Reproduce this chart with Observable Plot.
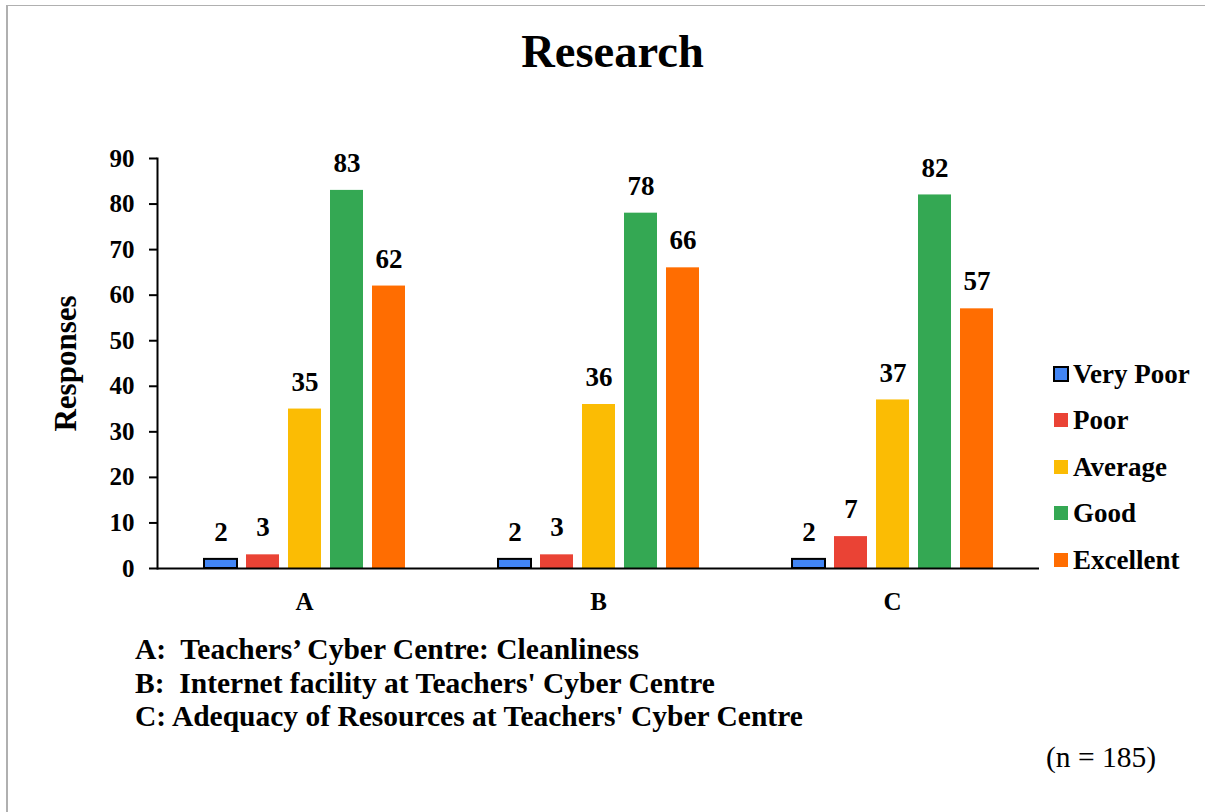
<!DOCTYPE html>
<html>
<head>
<meta charset="utf-8">
<script src="https://cdn.jsdelivr.net/npm/d3@7"></script>
<script src="https://cdn.jsdelivr.net/npm/@observablehq/plot@0.6"></script>
<style>
  html, body { margin: 0; padding: 0; background: #fff; overflow: hidden; }
  #page { position: relative; width: 1205px; height: 812px; overflow: hidden;
          font-family: 'Liberation Serif', 'Times New Roman', serif; color: #000; }
  #frame { position: absolute; left: 6px; top: 5px; width: 1400px; height: 1000px;
           border-left: 2px solid #b0b0b0; border-top: 1px solid #b0b0b0; }
  #chart { position: absolute; left: 0; top: 0; }
  .txt { position: absolute; line-height: 1; white-space: pre; }
  #legend { position: absolute; left: 1053px; top: 350.6px; }
  .row { display: flex; align-items: center; height: 46.5px; line-height: 46.5px;
         font-size: 27px; font-weight: bold; }
  .sw { width: 16px; height: 16px; display: flex; align-items: center; justify-content: center; margin-right: 4px; }
</style>
</head>
<body>
<div id="page">
  <div id="frame"></div>
  <div id="chart"></div>
</div>
<script>
// ---- data ----
const categories = ["A", "B", "C"];
const series = ["Very Poor", "Poor", "Average", "Good", "Excellent"];
const veryPoor  = [2, 2, 2];
const poor      = [3, 3, 7];
const average   = [35, 36, 37];
const good      = [83, 78, 82];
const excellent = [62, 66, 57];
const colors = ["#4285F4", "#EA4335", "#FBBC04", "#34A853", "#FF6D01"];
const yTicks = [0, 10, 20, 30, 40, 50, 60, 70, 80, 90];
const title = "Research";
const yLabel = "Responses";
const captionLines = [
  "A:  Teachers\u2019 Cyber Centre: Cleanliness",
  "B:  Internet facility at Teachers' Cyber Centre",
  "C: Adequacy of Resources at Teachers' Cyber Centre"
];
const note = "(n = 185)";

// ---- table ----
const seriesValues = [veryPoor, poor, average, good, excellent];
const rows = [];
categories.forEach((c, i) => {
  series.forEach((s, j) => rows.push({cat: c, series: s, value: seriesValues[j][i]}));
});

const font = "'Liberation Serif', 'Times New Roman', serif";

const chart = Plot.plot({
  width: 1205,
  height: 812,
  marginLeft: 156,
  marginRight: 165,
  marginTop: 158,
  marginBottom: 244,
  style: {fontFamily: font, color: "#000", background: "transparent"},
  fx: {domain: categories, padding: 0},
  x: {domain: series, paddingInner: 0.224, paddingOuter: 1.08, axis: null},
  y: {domain: [0, 90]},
  color: {domain: series, range: colors},
  marks: [
    Plot.barY(rows, {fx: "cat", x: "series", y: "value", fill: "series"}),
    Plot.barY(rows, {filter: d => d.series === "Very Poor", fx: "cat", x: "series", y: "value",
                     fill: "series", stroke: "#000", strokeWidth: 2}),
    Plot.text(rows, {fx: "cat", x: "series", y: "value", text: d => String(d.value),
                     dy: -27, fontSize: 27, fontWeight: "bold", fill: "#000"}),
    Plot.ruleY([0], {stroke: "#000", strokeWidth: 2}),
    Plot.frame({anchor: "left", facetAnchor: "left", stroke: "#000", strokeWidth: 2}),
    Plot.axisY({ticks: yTicks, tickSize: 8, tickPadding: 15, tickFormat: d => String(d),
                fontSize: 25, fontWeight: "bold", stroke: "#000", strokeWidth: 2, label: null}),
    Plot.axisY({ticks: [], tickSize: 0, label: yLabel, labelAnchor: "center", labelArrow: "none",
                labelOffset: 104, fontSize: 31, fontWeight: "bold"}),
    Plot.axisFx({anchor: "bottom", tickSize: 0, tickPadding: 24, fontSize: 25,
                 fontWeight: "bold", label: null})
  ]
});
document.getElementById("chart").appendChild(chart);

// ---- html text (title, legend, captions) ----
const page = document.getElementById("page");
function addText(str, {left, baseline, size, weight = "bold", center = false}) {
  const d = document.createElement("div");
  d.className = "txt";
  d.textContent = str;
  d.style.fontSize = size + "px";
  d.style.fontWeight = weight;
  d.style.top = (baseline - 0.8375 * size) + "px";
  if (center) { d.style.left = left + "px"; d.style.width = "1205px"; d.style.textAlign = "center"; }
  else d.style.left = left + "px";
  page.appendChild(d);
}
addText(title, {left: 10, baseline: 68, size: 46.5, center: true});
captionLines.forEach((t, i) => addText(t, {left: 135, baseline: 660 + i * 33.5, size: 29.5}));
addText(note, {left: 1046, baseline: 768, size: 29.5, weight: "normal"});

const legend = document.createElement("div");
legend.id = "legend";
series.forEach((s, i) => {
  const r = document.createElement("div");
  r.className = "row";
  const sw = document.createElement("div");
  sw.className = "sw";
  const box = document.createElement("div");
  if (i === 0) {
    box.style.cssText = `width:16px;height:16px;box-sizing:border-box;border:2px solid #000;background:${colors[i]}`;
  } else {
    box.style.cssText = `width:14px;height:14px;background:${colors[i]}`;
  }
  sw.appendChild(box);
  const lab = document.createElement("span");
  lab.textContent = s;
  r.appendChild(sw);
  r.appendChild(lab);
  legend.appendChild(r);
});
page.appendChild(legend);
</script>
</body>
</html>
